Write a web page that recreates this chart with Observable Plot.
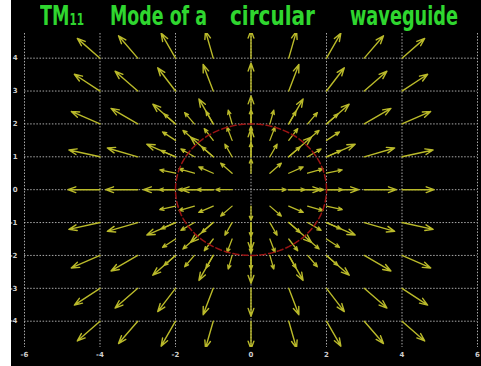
<!DOCTYPE html>
<html>
<head>
<meta charset="utf-8">
<script src="https://cdn.jsdelivr.net/npm/d3@7"></script>
<script src="https://cdn.jsdelivr.net/npm/@observablehq/plot@0.6"></script>
<style>
  html, body { margin: 0; padding: 0; background: #ffffff; }
  #panel { position: absolute; left: 11px; top: 0; width: 470px; height: 366px; background: #000; overflow: hidden; }
  #panel svg { position: absolute; left: 0; top: 0; }
  .word { position: absolute; top: 1px; color: #2fd62f; font-family: "DejaVu Sans", sans-serif; font-weight: bold; font-size: 27px; line-height: 30px; white-space: nowrap; transform-origin: 0 0; }
  .word small { font-size: 60%; }
</style>
</head>
<body>
<div id="panel"></div>
<script>
// Axis ticks
const xTicks = [-6, -4, -2, 0, 2, 4, 6];
const yTicks = [-4, -3, -2, -1, 0, 1, 2, 3, 4];

// Coarse sampling grid (unit spacing) and fine grid (half-unit spacing)
const coarseX = [-4, -3, -2, -1, 0, 1, 2, 3, 4];
const coarseY = [-4, -3, -2, -1, 0, 1, 2, 3, 4];
const fineX = [-2, -1.5, -1, -0.5, 0, 0.5, 1, 1.5, 2];
const fineY = [-2, -1.5, -1, -0.5, 0, 0.5, 1, 1.5, 2];

// Drawn arrow length on each grid (data units)
const coarseLength = 0.85;
const fineLength = 0.43;

// Waveguide wall radius
const wallRadius = 2;

// Title words: left offset and set width inside the panel
const titleWords = [
  {html: "TM<small>11</small>", left: 29, width: 44},
  {html: "Mode of a", left: 99, width: 97},
  {html: "circular", left: 219, width: 85},
  {html: "waveguide", left: 339, width: 108}
];

// Radial field arrows: each grid point gets an outward arrow
function radialArrows(xs, ys, len) {
  const out = [];
  for (const y of ys) for (const x of xs) {
    if (x === 0 && y === 0) continue;
    const a = Math.atan2(y, x);
    out.push({x1: x, y1: y, x2: x + len * Math.cos(a), y2: y + len * Math.sin(a)});
  }
  return out;
}
const coarseArrows = radialArrows(coarseX, coarseY, coarseLength);
const fineArrows = radialArrows(fineX, fineY, fineLength);

// Outline of the waveguide wall
const wall = d3.range(0, 361, 2).map(t => ({
  x: wallRadius * Math.cos(t * Math.PI / 180),
  y: wallRadius * Math.sin(t * Math.PI / 180)
}));

const arrowColor = "#baba2a";
const gridStyle = {stroke: "#c8c8c8", strokeWidth: 1, strokeDasharray: "1.5,1.6", strokeOpacity: 0.85};

const chart = Plot.plot({
  width: 470,
  height: 366,
  marginLeft: 13,
  marginRight: 4,
  marginTop: 33,
  marginBottom: 19,
  x: {domain: [-6, 6]},
  y: {domain: [-4.8, 4.75]},
  style: {background: "#000", color: "#cfcfcf", fontSize: "7px", fontFamily: "DejaVu Sans, sans-serif", fontWeight: "bold"},
  marks: [
    Plot.ruleX(xTicks, gridStyle),
    Plot.ruleY(yTicks, {...gridStyle, x1: -6, x2: 6}),
    Plot.arrow(coarseArrows, {x1: "x1", y1: "y1", x2: "x2", y2: "y2", stroke: arrowColor, strokeWidth: 1.4, headAngle: 40, headLength: 9, clip: true}),
    Plot.arrow(fineArrows, {x1: "x1", y1: "y1", x2: "x2", y2: "y2", stroke: arrowColor, strokeWidth: 1.3, headAngle: 45, headLength: 5, clip: true}),
    Plot.line(wall, {x: "x", y: "y", stroke: "#9c1414", strokeWidth: 1.5, strokeDasharray: "6,3", clip: true}),
    Plot.axisX({ticks: xTicks, tickSize: 0, tickPadding: 5, label: null, tickFormat: d => String(d)}),
    Plot.axisY({ticks: yTicks, tickSize: 0, tickPadding: 7, label: null, tickFormat: d => String(d)})
  ]
});

const panel = document.getElementById("panel");
panel.appendChild(chart);
for (const w of titleWords) {
  const s = document.createElement("div");
  s.className = "word";
  s.style.left = w.left + "px";
  s.innerHTML = w.html;
  panel.appendChild(s);
  const natural = s.getBoundingClientRect().width;
  s.style.transform = `scaleX(${w.width / natural})`;
}
</script>
</body>
</html>
